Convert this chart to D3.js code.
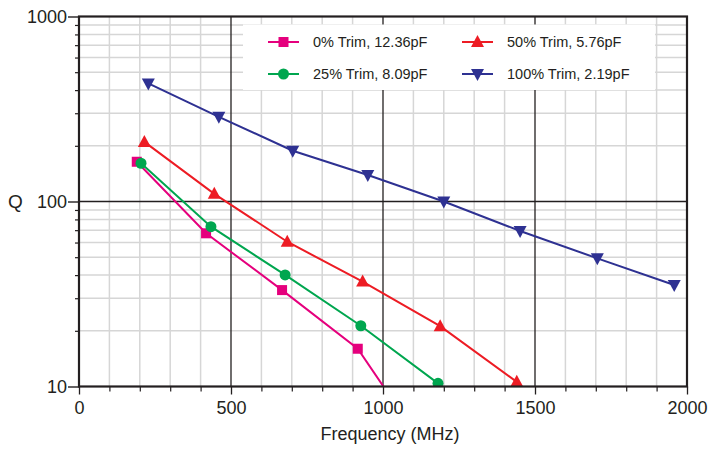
<!DOCTYPE html>
<html><head><meta charset="utf-8">
<script src="https://cdn.jsdelivr.net/npm/d3@7/dist/d3.min.js"></script>
<style>body{margin:0;background:#fff}svg{display:block;font-family:"Liberation Sans",Arial,sans-serif}</style>
</head><body><svg id="c" width="709" height="449"></svg>
<script>
const seriesNames = ["0% Trim, 12.36pF","25% Trim, 8.09pF","50% Trim, 5.76pF","100% Trim, 2.19pF"];
const trim0Freq = [190, 418, 668, 917, 1180];
const trim0Q = [164, 67.3, 33.2, 16.0, 3.7];
const trim25Freq = [204, 434, 678, 927, 1181];
const trim25Q = [161, 73.1, 40.1, 21.3, 10.4];
const trim50Freq = [215, 445, 685, 933, 1188, 1440];
const trim50Q = [210, 110, 60.6, 36.9, 21.2, 10.6];
const trim100Freq = [228, 460, 703, 950, 1200, 1451, 1705, 1958];
const trim100Q = [435, 287, 188, 139, 100, 69.3, 49.3, 35.4];
const xTicks = [0, 500, 1000, 1500, 2000];
const yTicks = [10, 100, 1000];
const xLabel = "Frequency (MHz)";
const yLabel = "Q";

const colors = ["#e5007d", "#00a64f", "#ed1c24", "#2e3192"];
const shapes = ["square", "circle", "triUp", "triDown"];
const series = [
  {name: seriesNames[0], f: trim0Freq, q: trim0Q},
  {name: seriesNames[1], f: trim25Freq, q: trim25Q},
  {name: seriesNames[2], f: trim50Freq, q: trim50Q},
  {name: seriesNames[3], f: trim100Freq, q: trim100Q}
];

const L = 79, R = 687, T = 16.5, B = 386.5;
const x = d3.scaleLinear().domain([0, 2000]).range([L, R]);
const y = d3.scaleLog().domain([10, 1000]).range([B, T]);
const svg = d3.select("#c");
const dark = "#231f20";

// minor grid
const minorX = d3.range(100, 2000, 100).filter(v => v % 500 !== 0);
const minorY = [];
[10, 100].forEach(d => { for (let k = 2; k <= 9; k++) minorY.push(d * k); });
svg.append("g").selectAll("line").data(minorX).join("line")
  .attr("x1", d => x(d)).attr("x2", d => x(d)).attr("y1", T).attr("y2", B)
  .attr("stroke", "#d6d6d6").attr("stroke-width", 1.5);
svg.append("g").selectAll("line").data(minorY).join("line")
  .attr("x1", L).attr("x2", R).attr("y1", d => y(d)).attr("y2", d => y(d))
  .attr("stroke", "#d6d6d6").attr("stroke-width", 1.5);
// major grid
svg.append("g").selectAll("line").data(xTicks.slice(1, -1)).join("line")
  .attr("x1", d => x(d)).attr("x2", d => x(d)).attr("y1", T).attr("y2", B)
  .attr("stroke", dark).attr("stroke-width", 1.3);
svg.append("g").selectAll("line").data(yTicks.slice(1, -1)).join("line")
  .attr("x1", L).attr("x2", R).attr("y1", d => y(d)).attr("y2", d => y(d))
  .attr("stroke", dark).attr("stroke-width", 1.3);

// axes
const gxm = svg.append("g").attr("transform", `translate(0,${B})`)
  .call(d3.axisBottom(x).tickValues(minorX).tickSize(5).tickFormat(""));
gxm.select(".domain").remove();
gxm.selectAll(".tick line").attr("stroke", dark).attr("stroke-width", 1.2);
const gx = svg.append("g").attr("transform", `translate(0,${B})`)
  .call(d3.axisBottom(x).tickValues(xTicks).tickSize(8).tickPadding(1).tickFormat(d3.format("d")));
gx.select(".domain").remove();
gx.selectAll(".tick line").attr("stroke", dark).attr("stroke-width", 1.3);
gx.selectAll("text").attr("font-size", 18).attr("fill", dark).attr("dy", "1.05em");

const gy = svg.append("g").attr("transform", `translate(${L},0)`)
  .call(d3.axisLeft(y).tickValues(minorY).tickSize(4).tickFormat(""));
gy.select(".domain").remove();
gy.selectAll(".tick line").attr("stroke", dark).attr("stroke-width", 1.2);
const gy2 = svg.append("g").attr("transform", `translate(${L},0)`)
  .call(d3.axisLeft(y).tickValues(yTicks).tickSize(11).tickPadding(1).tickFormat(d3.format("d")));
gy2.select(".domain").remove();
gy2.selectAll(".tick line").attr("stroke", dark).attr("stroke-width", 1.4);
gy2.selectAll("text").attr("font-size", 18).attr("fill", dark);

// legend box
const lg = svg.append("g");
lg.append("rect").attr("x", 243).attr("y", 24.5).attr("width", 412).attr("height", 65.5)
  .attr("fill", "#fff");

// clip
svg.append("clipPath").attr("id", "clip").append("rect")
  .attr("x", L).attr("y", T - 10).attr("width", R - L).attr("height", B - T + 10);

function marker(g, shape, color, cx, cy) {
  if (shape === "square") {
    g.append("rect").attr("x", cx - 5).attr("y", cy - 5).attr("width", 10).attr("height", 10).attr("fill", color);
  } else if (shape === "circle") {
    g.append("circle").attr("cx", cx).attr("cy", cy).attr("r", 5.5).attr("fill", color);
  } else if (shape === "triUp") {
    g.append("path").attr("d", `M${cx},${cy - 7}L${cx + 6.5},${cy + 5}L${cx - 6.5},${cy + 5}Z`).attr("fill", color);
  } else {
    g.append("path").attr("d", `M${cx},${cy + 7}L${cx + 6.5},${cy - 5}L${cx - 6.5},${cy - 5}Z`).attr("fill", color);
  }
}

const plot = svg.append("g").attr("clip-path", "url(#clip)");
series.forEach((s, i) => {
  const pts = s.f.map((f, j) => [f, s.q[j]]);
  plot.append("path").datum(pts)
    .attr("d", d3.line().x(d => x(d[0])).y(d => y(d[1])))
    .attr("fill", "none").attr("stroke", colors[i]).attr("stroke-width", 2);
  pts.forEach(p => marker(plot, shapes[i], colors[i], x(p[0]), y(p[1])));
});

// frame
svg.append("rect").attr("x", L).attr("y", T).attr("width", R - L).attr("height", B - T)
  .attr("fill", "none").attr("stroke", dark).attr("stroke-width", 2.2);

// legend entries
const legPos = [[268, 42], [268, 74], [462, 42], [462, 74]];
series.forEach((s, i) => {
  const [lx, ly] = legPos[i];
  lg.append("line").attr("x1", lx).attr("x2", lx + 31).attr("y1", ly).attr("y2", ly)
    .attr("stroke", colors[i]).attr("stroke-width", 2);
  marker(lg, shapes[i], colors[i], lx + 15.5, ly);
  lg.append("text").attr("x", lx + 45).attr("y", ly).attr("dy", "0.35em")
    .attr("font-size", 14.5).attr("fill", dark).text(s.name);
});
lg.raise();

// axis labels
svg.append("text").attr("x", 390).attr("y", 439.5).attr("text-anchor", "middle")
  .attr("font-size", 18).attr("fill", dark).text(xLabel);
svg.append("text").attr("x", 15.5).attr("y", y(100)).attr("dy", "0.35em").attr("text-anchor", "middle")
  .attr("font-size", 19).attr("fill", dark).text(yLabel);
</script></body></html>
